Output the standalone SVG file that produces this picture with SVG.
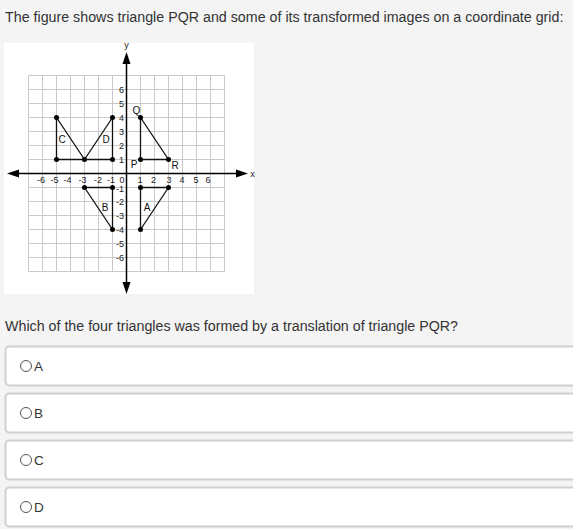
<svg xmlns="http://www.w3.org/2000/svg" width="573" height="529" viewBox="0 0 573 529">
<style>
.txt{font-family:"Liberation Sans",Arial,sans-serif;fill:#333;font-size:14.25px}
.grid line{stroke:#c9c9c9;stroke-width:1}
.axis{stroke:#000;stroke-width:1.5;fill:none}
.tri{stroke:#111;stroke-width:1.3;fill:none;stroke-linejoin:round}
.dot{fill:#000}
.num{font-family:"Liberation Sans",Arial,sans-serif;font-size:9px;fill:#222}
.lbl{font-family:"Liberation Sans",Arial,sans-serif;font-size:10px;fill:#111;text-anchor:middle}
.opt{fill:#fff;stroke:#cfcfcf;stroke-width:2}
.radio{fill:#fff;stroke:#555;stroke-width:1}
.optt{font-family:"Liberation Sans",Arial,sans-serif;fill:#333;font-size:13.5px}
</style>
<rect x="0" y="0" width="573" height="529" fill="#f4f4f4"/>
<text class="txt" x="5" y="22">The figure shows triangle PQR and some of its transformed images on a coordinate grid:</text>
<rect x="4" y="43" width="250" height="251" fill="#fff"/>
<g class="grid">
<line x1="28.5" y1="75.5" x2="28.5" y2="271.5"/><line x1="42.5" y1="75.5" x2="42.5" y2="271.5"/><line x1="56.5" y1="75.5" x2="56.5" y2="271.5"/><line x1="70.5" y1="75.5" x2="70.5" y2="271.5"/><line x1="84.5" y1="75.5" x2="84.5" y2="271.5"/><line x1="98.5" y1="75.5" x2="98.5" y2="271.5"/><line x1="112.5" y1="75.5" x2="112.5" y2="271.5"/><line x1="140.5" y1="75.5" x2="140.5" y2="271.5"/><line x1="154.5" y1="75.5" x2="154.5" y2="271.5"/><line x1="168.5" y1="75.5" x2="168.5" y2="271.5"/><line x1="182.5" y1="75.5" x2="182.5" y2="271.5"/><line x1="196.5" y1="75.5" x2="196.5" y2="271.5"/><line x1="210.5" y1="75.5" x2="210.5" y2="271.5"/><line x1="224.5" y1="75.5" x2="224.5" y2="271.5"/>
<line x1="28.5" y1="75.5" x2="224.5" y2="75.5"/><line x1="28.5" y1="89.5" x2="224.5" y2="89.5"/><line x1="28.5" y1="103.5" x2="224.5" y2="103.5"/><line x1="28.5" y1="117.5" x2="224.5" y2="117.5"/><line x1="28.5" y1="131.5" x2="224.5" y2="131.5"/><line x1="28.5" y1="145.5" x2="224.5" y2="145.5"/><line x1="28.5" y1="159.5" x2="224.5" y2="159.5"/><line x1="28.5" y1="187.5" x2="224.5" y2="187.5"/><line x1="28.5" y1="201.5" x2="224.5" y2="201.5"/><line x1="28.5" y1="215.5" x2="224.5" y2="215.5"/><line x1="28.5" y1="229.5" x2="224.5" y2="229.5"/><line x1="28.5" y1="243.5" x2="224.5" y2="243.5"/><line x1="28.5" y1="257.5" x2="224.5" y2="257.5"/><line x1="28.5" y1="271.5" x2="224.5" y2="271.5"/>
</g>
<g id="axes">
<line class="axis" x1="14" y1="173.5" x2="241" y2="173.5"/>
<line class="axis" x1="126.5" y1="60" x2="126.5" y2="286"/>
<polygon points="7,173.5 19,169.5 19,177.5" fill="#000"/>
<polygon points="248,173.5 236,169.5 236,177.5" fill="#000"/>
<polygon points="126.5,52 122.5,64 130.5,64" fill="#000"/>
<polygon points="126.5,294 122.5,282 130.5,282" fill="#000"/>
<text class="num" x="126.5" y="48" text-anchor="middle" font-size="8">y</text>
<text class="num" x="252.5" y="176.5" text-anchor="middle" font-size="9">x</text>
</g>
<g id="ticks" class="num">
<text x="124" y="92.5" text-anchor="end">6</text>
<text x="124" y="106.5" text-anchor="end">5</text>
<text x="124" y="120.5" text-anchor="end">4</text>
<text x="124" y="134.5" text-anchor="end">3</text>
<text x="124" y="148.5" text-anchor="end">2</text>
<text x="124" y="162.5" text-anchor="end">1</text>
<text x="124" y="191.5" text-anchor="end">-1</text>
<text x="124" y="204.5" text-anchor="end">-2</text>
<text x="124" y="218.5" text-anchor="end">-3</text>
<text x="124" y="232.5" text-anchor="end">-4</text>
<text x="124" y="246.5" text-anchor="end">-5</text>
<text x="124" y="260.5" text-anchor="end">-6</text>
<text x="41" y="182.5" text-anchor="middle">-6</text>
<text x="54.5" y="182.5" text-anchor="middle">-5</text>
<text x="67.5" y="182.5" text-anchor="middle">-4</text>
<text x="82.5" y="182.5" text-anchor="middle">-3</text>
<text x="98" y="182.5" text-anchor="middle">-2</text>
<text x="111" y="182.5" text-anchor="middle">-1</text>
<text x="122" y="182.5" text-anchor="middle">0</text>
<text x="140" y="182.5" text-anchor="middle">1</text>
<text x="153.5" y="182.5" text-anchor="middle">2</text>
<text x="169" y="182.5" text-anchor="middle">3</text>
<text x="182" y="182.5" text-anchor="middle">4</text>
<text x="196" y="182.5" text-anchor="middle">5</text>
<text x="208" y="182.5" text-anchor="middle">6</text>
</g>
<g id="PQR">
<polygon class="tri" points="140.5,159.5 140.5,117.5 168.5,159.5"/>
<circle class="dot" cx="140.5" cy="159.5" r="2.5"/><circle class="dot" cx="140.5" cy="117.5" r="2.5"/><circle class="dot" cx="168.5" cy="159.5" r="2.5"/>
<text class="lbl" x="134" y="168">P</text>
<text class="lbl" x="136.5" y="114">Q</text>
<text class="lbl" x="175" y="169">R</text>
</g>
<g id="A">
<polygon class="tri" points="140.5,187.5 168.5,187.5 140.5,229.5"/>
<circle class="dot" cx="140.5" cy="187.5" r="2.5"/><circle class="dot" cx="168.5" cy="187.5" r="2.5"/><circle class="dot" cx="140.5" cy="229.5" r="2.5"/>
<text class="lbl" x="147" y="211">A</text>
</g>
<g id="B">
<polygon class="tri" points="112.5,187.5 84.5,187.5 112.5,229.5"/>
<circle class="dot" cx="112.5" cy="187.5" r="2.5"/><circle class="dot" cx="84.5" cy="187.5" r="2.5"/><circle class="dot" cx="112.5" cy="229.5" r="2.5"/>
<text class="lbl" x="105" y="211">B</text>
</g>
<g id="C">
<polygon class="tri" points="56.5,117.5 56.5,159.5 84.5,159.5"/>
<circle class="dot" cx="56.5" cy="117.5" r="2.5"/><circle class="dot" cx="56.5" cy="159.5" r="2.5"/><circle class="dot" cx="84.5" cy="159.5" r="2.5"/>
<text class="lbl" x="62" y="143">C</text>
</g>
<g id="D">
<polygon class="tri" points="112.5,117.5 112.5,159.5 84.5,159.5"/>
<circle class="dot" cx="112.5" cy="117.5" r="2.5"/><circle class="dot" cx="112.5" cy="159.5" r="2.5"/>
<text class="lbl" x="106" y="143">D</text>
</g>
<text class="txt" x="5" y="331">Which of the four triangles was formed by a translation of triangle PQR?</text>
<g id="optA"><rect class="opt" x="5.5" y="346.5" width="600" height="39" rx="4"/><circle class="radio" cx="26" cy="366" r="5.5"/><text class="optt" x="34" y="371">A</text></g>
<g id="optB"><rect class="opt" x="5.5" y="393.5" width="600" height="39" rx="4"/><circle class="radio" cx="26" cy="413" r="5.5"/><text class="optt" x="34" y="418">B</text></g>
<g id="optC"><rect class="opt" x="5.5" y="440.5" width="600" height="39" rx="4"/><circle class="radio" cx="26" cy="460" r="5.5"/><text class="optt" x="34" y="465">C</text></g>
<g id="optD"><rect class="opt" x="5.5" y="487.5" width="600" height="39" rx="4"/><circle class="radio" cx="26" cy="507" r="5.5"/><text class="optt" x="34" y="512">D</text></g>
</svg>
